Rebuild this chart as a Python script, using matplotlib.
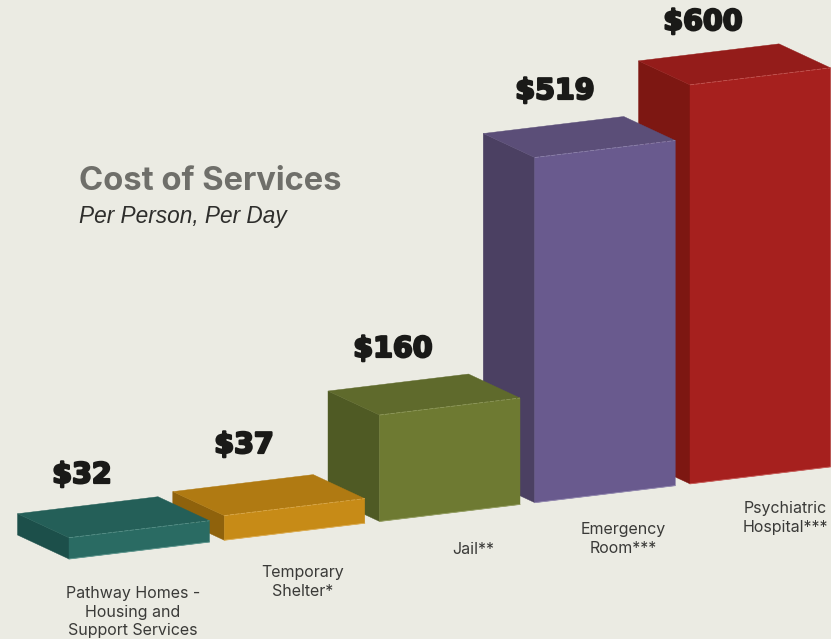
import matplotlib
matplotlib.use('Agg')
import matplotlib.pyplot as plt
from matplotlib.patches import Polygon
import matplotlib.patheffects as pe

# data
categories = ["Pathway Homes -\nHousing and\nSupport Services", "Temporary\nShelter*", "Jail**",
              "Emergency\nRoom***", "Psychiatric\nHospital***"]
values = [32, 37, 160, 519, 600]
value_labels = ["$32", "$37", "$160", "$519", "$600"]

# front, top, side colours per bar
front_colors = ["#2A6B63", "#C78B17", "#6E7A32", "#695A8E", "#A6201E"]
top_colors = ["#245F58", "#B07A12", "#5F6A2C", "#5B4E78", "#941C1A"]
side_colors = ["#1C4F4A", "#8F620C", "#4F5A24", "#4B4062", "#7D1712"]
edge_colors = ["#5E968E", "#DDAE55", "#949E62", "#9389B0", "#C9605C"]

BG = "#EBEBE3"
px_per_dollar = 0.665
slot_step = 1.105


def project(u, depth, dollars):
    # oblique projection: u along the bar row, depth going back, dollars going up
    x = 69 + 140.5 * u - 51.5 * depth
    y = 559 - 17 * u - 24 * depth - dollars * px_per_dollar
    return (x, y)


fig = plt.figure(figsize=(8.31, 6.39), dpi=100, facecolor=BG)
ax = fig.add_axes([0, 0, 1, 1])
ax.set_xlim(0, 831)
ax.set_ylim(639, 0)
ax.axis('off')

# right to left, nearer bars cover the ones behind them
for i in range(len(values) - 1, -1, -1):
    u0 = i * slot_step
    u1 = u0 + 1
    v = values[i]
    side = [project(u0, 0, 0), project(u0, 1, 0), project(u0, 1, v), project(u0, 0, v)]
    top = [project(u0, 0, v), project(u0, 1, v), project(u1, 1, v), project(u1, 0, v)]
    front = [project(u0, 0, 0), project(u1, 0, 0), project(u1, 0, v), project(u0, 0, v)]
    ax.add_patch(Polygon(side, closed=True, fc=side_colors[i], ec=side_colors[i], lw=0.3, zorder=10 - i))
    ax.add_patch(Polygon(top, closed=True, fc=top_colors[i], ec=top_colors[i], lw=0.3, zorder=10 - i))
    ax.add_patch(Polygon(front, closed=True, fc=front_colors[i], ec=front_colors[i], lw=0.3, zorder=10 - i))
    # thin light seams on the box edges
    ax.plot(*zip(project(u0, 0, v), project(u1, 0, v)), color=edge_colors[i], lw=0.5, ls=(0, (6, 2)), zorder=10 - i)
    ax.plot(*zip(project(u0, 0, 0), project(u1, 0, 0)), color=edge_colors[i], lw=0.6, zorder=10 - i)

# value labels
label_pos = [(82, 475), (244, 445), (393, 349), (555, 91), (703, 22)]
for (x, y), s in zip(label_pos, value_labels):
    ax.text(x, y, s, ha='center', va='center', fontsize=20.5, fontweight='bold', family='DejaVu Sans',
            color='#1A1A18', path_effects=[pe.withStroke(linewidth=1.6, foreground='#1A1A18')], zorder=20)

# category labels
cat_pos = [(133, 612), (303, 582), (473, 550), (623, 539), (785, 518)]
for (x, y), s in zip(cat_pos, categories):
    ax.text(x, y, s, ha='center', va='center', ma='center', fontsize=11.5, family='Inter',
            color='#3A3A38', linespacing=1.33, zorder=20)

ax.text(79, 181, "Cost of Services", ha='left', va='center', fontsize=23.5, fontweight='bold', family='Inter',
        color='#6F6F6A', zorder=20)
ax.text(79, 216, "Per Person, Per Day", ha='left', va='center', fontsize=16.3, style='italic',
        family='Liberation Sans', color='#2E2E2C', zorder=20)

fig.savefig('out.png', dpi=100, facecolor=BG)
